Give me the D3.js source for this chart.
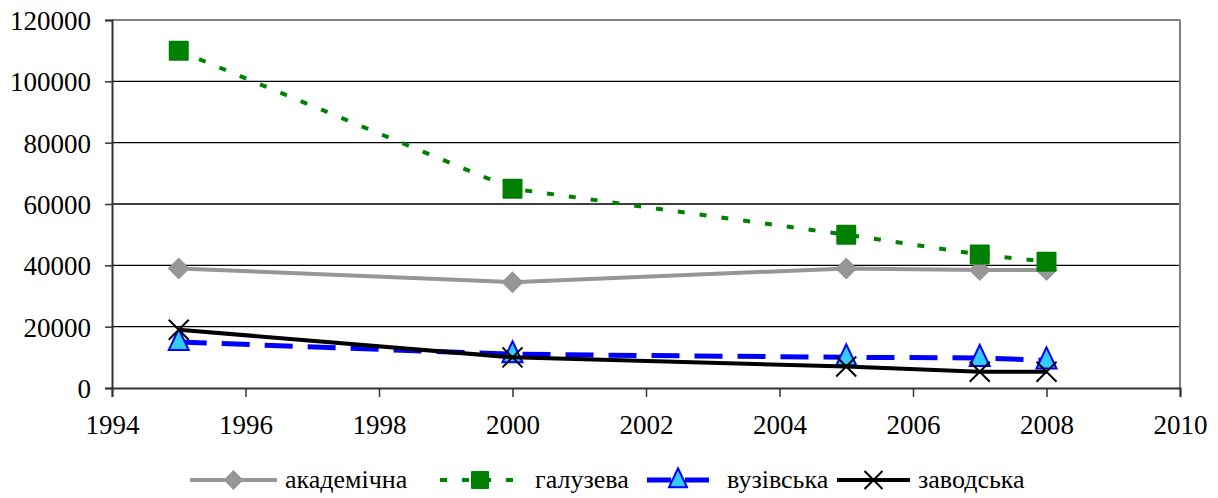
<!DOCTYPE html>
<html>
<head>
<meta charset="UTF-8" />
<title>chart</title>
<script src="https://d3js.org/d3.v7.min.js"></script>
<style>
  body { margin: 0; background: #fff; }
  svg text { font-family: "Liberation Serif", "Times New Roman", "DejaVu Serif", serif; }
</style>
</head>
<body>
<svg id="chart" width="1218" height="498"></svg>
<script>
// data
var years = [1995, 2000, 2005, 2007, 2008]
var akadem = [39000, 34500, 39000, 38500, 38500]
var haluz = [110000, 65000, 50000, 43500, 41200]
var vuz = [15000, 11000, 10000, 9800, 9000]
var zavod = [19000, 10000, 7000, 5300, 5300]
var names = ["академічна", "галузева", "вузівська", "заводська"]
var xTicks = [1994, 1996, 1998, 2000, 2002, 2004, 2006, 2008, 2010]
var yTicks = [0, 20000, 40000, 60000, 80000, 100000, 120000]

var series = [
  {name: names[0], values: akadem, color: "#969696", width: 4, dash: null, marker: "diamond"},
  {name: names[1], values: haluz, color: "#008000", width: 4, dash: "7,15", marker: "square"},
  {name: names[2], values: vuz, color: "#0000ff", width: 5, dash: "28,15", marker: "triangle"},
  {name: names[3], values: zavod, color: "#000000", width: 4, dash: null, marker: "cross"}
]

var serif = '"Liberation Serif", "Times New Roman", "DejaVu Serif", serif'
var svg = d3.select("#chart")
// plot box (note: "top" would clash with window.top)
var pLeft = 112, pRight = 1180, pTop = 20, pBottom = 388

var x = d3.scaleLinear().domain([1994, 2010]).range([pLeft, pRight])
var y = d3.scaleLinear().domain([0, 120000]).range([pBottom, pTop])

// gridlines
svg.append("g").selectAll("line").data(yTicks.slice(1, -1)).join("line")
  .attr("x1", pLeft).attr("x2", pRight)
  .attr("y1", d => y(d)).attr("y2", d => y(d))
  .attr("stroke", "#000").attr("stroke-width", 1.3)

// plot frame top / right
svg.append("line").attr("x1", pLeft).attr("x2", pRight).attr("y1", pTop).attr("y2", pTop)
  .attr("stroke", "#808080").attr("stroke-width", 2)
svg.append("line").attr("x1", pRight).attr("x2", pRight).attr("y1", pTop).attr("y2", pBottom)
  .attr("stroke", "#808080").attr("stroke-width", 2)

// axes
var yAxis = d3.axisLeft(y).tickValues(yTicks).tickSize(7).tickPadding(14).tickFormat(d3.format("d"))
var gy = svg.append("g").attr("transform", `translate(${pLeft},0)`).call(yAxis)
var xAxis = d3.axisBottom(x).tickValues(xTicks).tickSize(9).tickPadding(18).tickFormat(d3.format("d"))
var gx = svg.append("g").attr("transform", `translate(0,${pBottom})`).call(xAxis)
;[gx, gy].forEach(g => {
  g.attr("font-family", serif)
  g.select(".domain").attr("stroke", "#333").attr("stroke-width", 2)
  g.selectAll(".tick line").attr("stroke", "#333").attr("stroke-width", 1.5)
  g.selectAll("text").attr("fill", "#000").style("font-size", "27px")
    .style("font-family", serif)
})
gy.selectAll("text").attr("dy", "0.35em")
gx.selectAll("text").attr("dy", "0.71em")

function drawMarker(g, s, cx, cy, sc) {
  sc = sc || 1
  if (s.marker == "diamond") {
    var r = 11 * sc
    g.append("path").attr("d", `M${cx},${cy - r}L${cx + r},${cy}L${cx},${cy + r}L${cx - r},${cy}Z`)
      .attr("fill", "#969696")
  } else if (s.marker == "square") {
    var h = 10 * sc
    g.append("rect").attr("x", cx - h).attr("y", cy - h).attr("width", 2 * h).attr("height", 2 * h)
      .attr("fill", "#008000").attr("rx", 1)
  } else if (s.marker == "triangle") {
    var t = 10 * sc
    g.append("path").attr("d", `M${cx},${cy - t * 1.3}L${cx + t},${cy + t * 0.8}L${cx - t},${cy + t * 0.8}Z`)
      .attr("fill", "#33ccff").attr("stroke", "#0000ff").attr("stroke-width", 2)
  } else {
    var c = 10 * sc
    g.append("path").attr("d", `M${cx - c},${cy - c}L${cx + c},${cy + c}M${cx + c},${cy - c}L${cx - c},${cy + c}`)
      .attr("stroke", "#000").attr("stroke-width", 2).attr("fill", "none")
  }
}

var line = d3.line().x((d, i) => x(years[i])).y(d => y(d))

series.forEach(s => {
  var g = svg.append("g")
  g.append("path").attr("d", line(s.values))
    .attr("fill", "none").attr("stroke", s.color).attr("stroke-width", s.width)
    .attr("stroke-dasharray", s.dash)
  s.values.forEach((v, i) => drawMarker(g, s, x(years[i]), y(v)))
})

// legend
var legY = 480
var legend = [
  {x1: 190, x2: 277, tx: 285},
  {x1: 440, x2: 520, tx: 535},
  {x1: 647, x2: 709, tx: 727},
  {x1: 837, x2: 910, tx: 918}
]
series.forEach((s, i) => {
  var L = legend[i]
  var g = svg.append("g")
  var dash = s.marker == "square" ? "7,15" : s.dash
  if (s.marker == "triangle") dash = "24,14"
  g.append("line").attr("x1", L.x1).attr("x2", L.x2).attr("y1", legY).attr("y2", legY)
    .attr("stroke", s.color).attr("stroke-width", s.width).attr("stroke-dasharray", dash)
  drawMarker(g, s, (L.x1 + L.x2) / 2, legY, 0.9)
  g.append("text").attr("x", L.tx).attr("y", legY).attr("dy", "0.32em")
    .style("font-family", serif).style("font-size", "26px").text(s.name)
})
</script>
</body>
</html>
